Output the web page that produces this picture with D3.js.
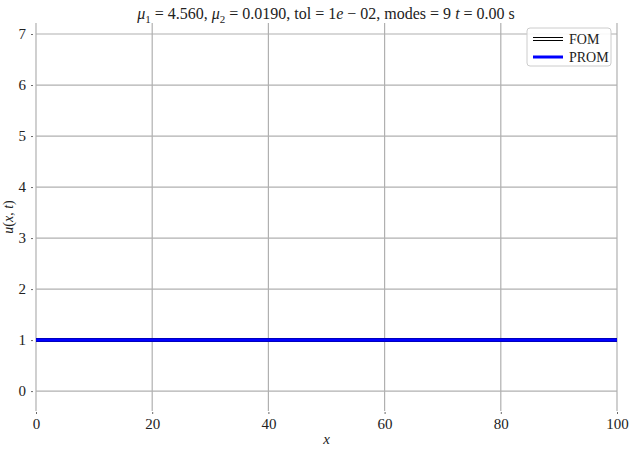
<!DOCTYPE html>
<html>
<head>
<meta charset="utf-8">
<script src="https://cdn.jsdelivr.net/npm/d3@7"></script>
<style>
  body { margin: 0; background: #fff; }
  svg text { font-family: "Liberation Serif", "DejaVu Serif", serif; fill: #222; }
</style>
</head>
<body>
<svg id="chart" width="630" height="450"></svg>
<script>
// data: u(x, 0) = 1 everywhere
const xs = [0, 10, 20, 30, 40, 50, 60, 70, 80, 90, 100];
const fom = [1, 1, 1, 1, 1, 1, 1, 1, 1, 1, 1];
const prom = [1, 1, 1, 1, 1, 1, 1, 1, 1, 1, 1];
const xTicks = [0, 20, 40, 60, 80, 100];
const yTicks = [0, 1, 2, 3, 4, 5, 6, 7];

const svg = d3.select("#chart");
const mLeft = 36, mRight = 617, mTop = 23, mBottom = 411;

const x = d3.scaleLinear().domain([0, 100]).range([mLeft, mRight]);
const y = d3.scaleLinear().domain([-0.39, 7.216]).range([mBottom, mTop]);

// grid
svg.append("g").selectAll("line").data(xTicks).enter().append("line")
  .attr("x1", d => x(d)).attr("x2", d => x(d))
  .attr("y1", mTop).attr("y2", mBottom)
  .attr("stroke", "#b0b0b0").attr("stroke-width", 1.2);
svg.append("g").selectAll("line").data(yTicks).enter().append("line")
  .attr("x1", mLeft).attr("x2", mRight)
  .attr("y1", d => y(d)).attr("y2", d => y(d))
  .attr("stroke", "#b0b0b0").attr("stroke-width", 1.2);

// axes (tiny tick dots, no domain line)
const gx = svg.append("g")
  .attr("transform", `translate(0,${mBottom})`)
  .call(d3.axisBottom(x).tickValues(xTicks).tickSize(2).tickPadding(5));
const gy = svg.append("g")
  .attr("transform", `translate(${mLeft},0)`)
  .call(d3.axisLeft(y).tickValues(yTicks).tickSize(2).tickPadding(8));
[gx, gy].forEach(g => {
  g.select(".domain").remove();
  g.selectAll(".tick line").attr("stroke", "#444").attr("stroke-width", 0.8)
    .attr("transform", g === gx ? "translate(0,1)" : "translate(-3,0)");
  g.selectAll(".tick text").attr("font-size", 15).attr("fill", "#222")
    .style("font-family", '"Liberation Serif", serif');
});

// lines
const line = d3.line().x((d, i) => x(xs[i])).y(d => y(d));
svg.append("path").datum(fom).attr("d", line)
  .attr("fill", "none").attr("stroke", "#000").attr("stroke-width", 4);
svg.append("path").datum(fom).attr("d", line)
  .attr("fill", "none").attr("stroke", "#fff").attr("stroke-width", 2);
svg.append("path").datum(prom).attr("d", line)
  .attr("fill", "none").attr("stroke", "#0000ff").attr("stroke-width", 3.5);

// labels
svg.append("text").attr("x", 326).attr("y", 19).attr("text-anchor", "middle")
  .attr("font-size", 16)
  .html('<tspan font-style="italic">μ</tspan><tspan font-size="11" dy="4">1</tspan><tspan dy="-4"> = 4.560,  </tspan>' +
        '<tspan font-style="italic">μ</tspan><tspan font-size="11" dy="4">2</tspan><tspan dy="-4"> = 0.0190,  tol = 1</tspan>' +
        '<tspan font-style="italic">e</tspan><tspan> − 02,  modes = 9    </tspan>' +
        '<tspan font-style="italic">t</tspan><tspan> = 0.00 s</tspan>');
svg.append("text").attr("x", x(50)).attr("y", 444).attr("text-anchor", "middle")
  .attr("font-size", 15).attr("font-style", "italic").text("x");
svg.append("text").attr("transform", "translate(13,217) rotate(-90)")
  .attr("text-anchor", "middle").attr("font-size", 14)
  .html('<tspan font-style="italic">u</tspan>(<tspan font-style="italic">x, t</tspan>)');

// legend
const lg = svg.append("g").attr("transform", "translate(527,28)");
lg.append("rect").attr("width", 84).attr("height", 38).attr("rx", 3)
  .attr("fill", "#fff").attr("fill-opacity", 0.9).attr("stroke", "#ccc");
lg.append("line").attr("x1", 6).attr("x2", 36).attr("y1", 11).attr("y2", 11)
  .attr("stroke", "#000").attr("stroke-width", 4);
lg.append("line").attr("x1", 6).attr("x2", 36).attr("y1", 11).attr("y2", 11)
  .attr("stroke", "#fff").attr("stroke-width", 2);
lg.append("line").attr("x1", 6).attr("x2", 36).attr("y1", 29).attr("y2", 29)
  .attr("stroke", "#0000ff").attr("stroke-width", 3);
lg.append("text").attr("x", 42).attr("y", 16).attr("font-size", 14).text("FOM");
lg.append("text").attr("x", 42).attr("y", 34).attr("font-size", 14).text("PROM");
</script>
</body>
</html>
